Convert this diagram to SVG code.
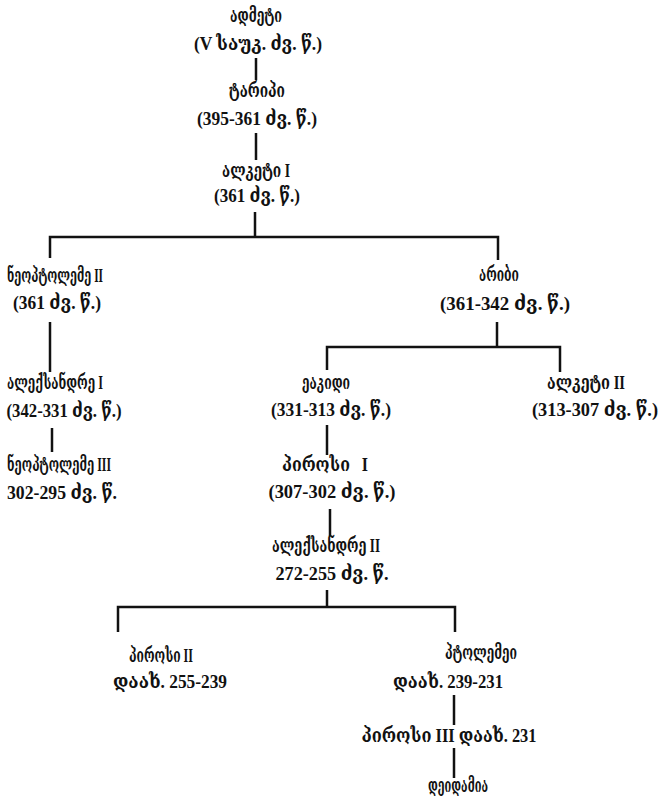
<svg xmlns="http://www.w3.org/2000/svg" width="663" height="799" viewBox="0 0 663 799">
<style>
text{font-family:"Liberation Serif","DejaVu Serif","DejaVu Sans",serif;font-size:19px;font-weight:bold;fill:#111;text-anchor:middle}
.c{stroke:#111;stroke-width:2.5;fill:none}
</style>
<rect width="663" height="799" fill="#fff"/>
<g id="connectors">
<path class="c" d="M256 58V80"/>
<path class="c" d="M256 133V160"/>
<path class="c" d="M255 212V237M50 258V237H498V260"/>
<path class="c" d="M50 322V372"/>
<path class="c" d="M52 428V452"/>
<path class="c" d="M497 322V347M327 370V347H560V372"/>
<path class="c" d="M327 425V455"/>
<path class="c" d="M330 509V536"/>
<path class="c" d="M327 590V607M118 632V607H455V632"/>
<path class="c" d="M454 695V725"/>
<path class="c" d="M454 748V778"/>
</g>
<g id="admetus"><text x="256" y="22" textLength="52" lengthAdjust="spacingAndGlyphs">ადმეტი</text><text x="258" y="50" textLength="128" lengthAdjust="spacingAndGlyphs">(V საუკ. ძვ. წ.)</text></g>
<g id="tharyps"><text x="257" y="97" textLength="56" lengthAdjust="spacingAndGlyphs">ტარიპი</text><text x="257" y="125" textLength="120" lengthAdjust="spacingAndGlyphs">(395-361 ძვ. წ.)</text></g>
<g id="alcetas1"><text x="256" y="177" textLength="68" lengthAdjust="spacingAndGlyphs">ალკეტი I</text><text x="257" y="202" textLength="86" lengthAdjust="spacingAndGlyphs">(361 ძვ. წ.)</text></g>
<g id="neoptolemus2"><text x="55" y="282" textLength="96" lengthAdjust="spacingAndGlyphs">ნეოპტოლემე II</text><text x="57" y="309" textLength="88" lengthAdjust="spacingAndGlyphs">(361 ძვ. წ.)</text></g>
<g id="arybbas"><text x="499" y="281" textLength="40" lengthAdjust="spacingAndGlyphs">არიბი</text><text x="505" y="310" textLength="130" lengthAdjust="spacingAndGlyphs">(361-342 ძვ. წ.)</text></g>
<g id="alexander1"><text x="55" y="389" textLength="96" lengthAdjust="spacingAndGlyphs">ალექსანდრე I</text><text x="64" y="417" textLength="115" lengthAdjust="spacingAndGlyphs">(342-331 ძვ. წ.)</text></g>
<g id="neoptolemus3"><text x="59" y="471" textLength="104" lengthAdjust="spacingAndGlyphs">ნეოპტოლემე III</text><text x="62" y="499" textLength="110" lengthAdjust="spacingAndGlyphs">302-295 ძვ. წ.</text></g>
<g id="aeacides"><text x="326" y="389" textLength="48" lengthAdjust="spacingAndGlyphs">ეაკიდი</text><text x="331" y="416" textLength="120" lengthAdjust="spacingAndGlyphs">(331-313 ძვ. წ.)</text></g>
<g id="alcetas2"><text x="586" y="389" textLength="78" lengthAdjust="spacingAndGlyphs">ალკეტი II</text><text x="595" y="416" textLength="126" lengthAdjust="spacingAndGlyphs">(313-307 ძვ. წ.)</text></g>
<g id="pyrrhus1"><text x="325" y="471" textLength="86" lengthAdjust="spacingAndGlyphs" xml:space="preserve">პიროსი   I</text><text x="332" y="498" textLength="127" lengthAdjust="spacingAndGlyphs">(307-302 ძვ. წ.)</text></g>
<g id="alexander2"><text x="326" y="552" textLength="108" lengthAdjust="spacingAndGlyphs">ალექსანდრე II</text><text x="332" y="580" textLength="113" lengthAdjust="spacingAndGlyphs">272-255 ძვ. წ.</text></g>
<g id="pyrrhus2"><text x="161" y="662" textLength="64" lengthAdjust="spacingAndGlyphs">პიროსი II</text><text x="170" y="688" textLength="114" lengthAdjust="spacingAndGlyphs">დაახ. 255-239</text></g>
<g id="ptolemy"><text x="481" y="659" textLength="72" lengthAdjust="spacingAndGlyphs">პტოლემეი</text><text x="448" y="688" textLength="110" lengthAdjust="spacingAndGlyphs">დაახ. 239-231</text></g>
<g id="pyrrhus3"><text x="449" y="742" textLength="175" lengthAdjust="spacingAndGlyphs">პიროსი III დაახ. 231</text></g>
<g id="deidamia"><text x="458" y="792" textLength="60" lengthAdjust="spacingAndGlyphs">დეიდამია</text></g>
</svg>
